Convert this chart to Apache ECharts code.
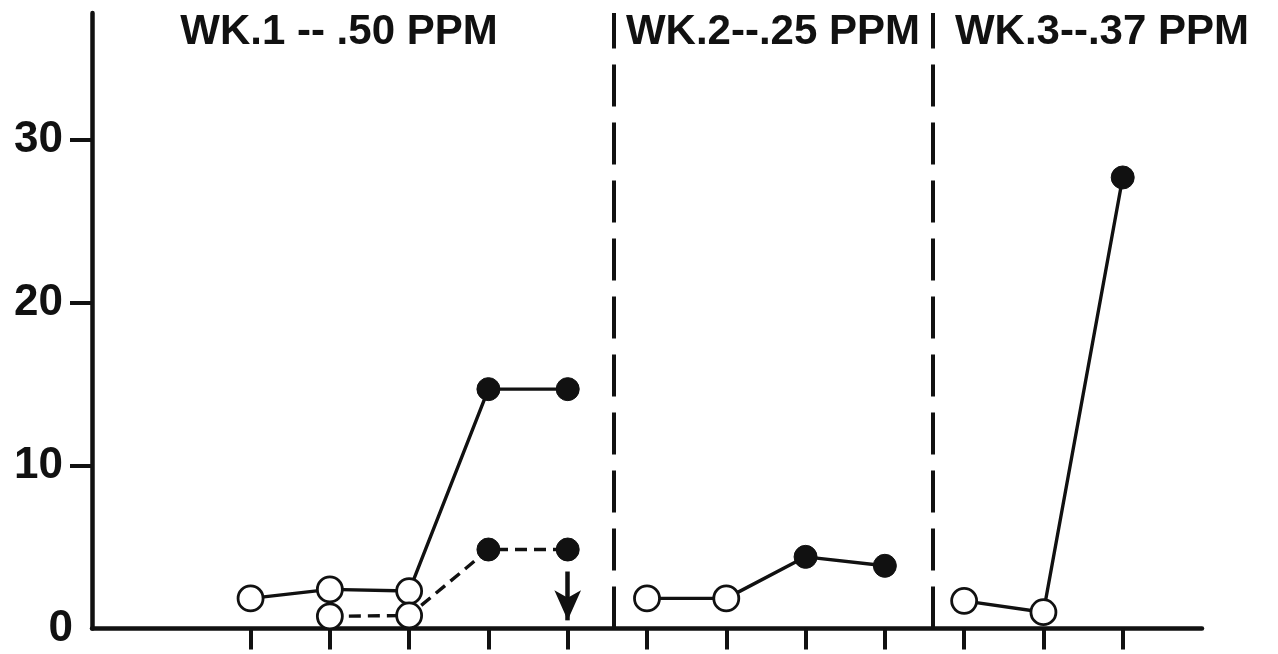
<!DOCTYPE html>
<html>
<head>
<meta charset="utf-8">
<script src="https://cdn.jsdelivr.net/npm/echarts@6/dist/echarts.min.js"></script>
<style>
  html, body { margin: 0; padding: 0; background: #fff; }
  #chart { width: 1278px; height: 654px; }
</style>
</head>
<body>
<div id="chart"></div>
<script>
// Daily readings per exposure week; "filled" marks the days drawn as solid dots
const wk1Days = [1, 2, 3, 4, 5];
const wk1Solid = [1.85, 2.4, 2.3, 14.7, 14.7];
const wk1SolidFilled = [false, false, false, true, true];

const wk1DashDays = [2, 3, 4, 5];
const wk1Dashed = [0.75, 0.8, 4.85, 4.85];
const wk1DashedFilled = [false, false, true, true];

const wk2Days = [6, 7, 8, 9];
const wk2Values = [1.85, 1.85, 4.4, 3.85];
const wk2Filled = [false, false, true, true];

const wk3Days = [10, 11, 12];
const wk3Values = [1.7, 1.0, 27.7];
const wk3Filled = [false, false, true];

// Week separators (between day columns) and the arrow on day 5
const weekBreaks = [5.58, 9.61];
const arrowDay = 5;
const arrowFrom = 3.5;
const arrowTo = 0.5;

const xTicks = [1, 2, 3, 4, 5, 6, 7, 8, 9, 10, 11, 12];
const yTicks = [0, 10, 20, 30];
const weekTitles = ['WK.1 -- .50 PPM', 'WK.2--.25 PPM', 'WK.3--.37 PPM'];
const weekTitleCenters = [339, 773, 1102];

const INK = '#111';
const FONT = '"Liberation Sans", Arial, sans-serif';

function points(days, vals, filled) {
  return days.map((d, i) => ({
    value: [d, vals[i]],
    symbolSize: filled[i] ? 23 : 25,
    itemStyle: filled[i]
      ? { color: INK, borderColor: INK, borderWidth: 1 }
      : { color: '#fff', borderColor: INK, borderWidth: 2.8 }
  }));
}

function lineSeries(days, vals, filled, dashed, extra) {
  return Object.assign({
    type: 'line',
    data: points(days, vals, filled),
    symbol: 'circle',
    showAllSymbol: true,
    lineStyle: { color: INK, width: 3.4, type: dashed ? [12, 7] : 'solid' },
    emphasis: { disabled: true },
    animation: false,
    z: 3
  }, extra || {});
}

const chart = echarts.init(document.getElementById('chart'));

chart.setOption({
  backgroundColor: '#fff',
  animation: false,
  grid: { left: 92, right: 76, top: 13, bottom: 25.5, containLabel: false },
  xAxis: {
    type: 'value',
    min: -1,
    max: 13,
    axisLine: { show: true, onZero: false, lineStyle: { color: INK, width: 4.5 } },
    axisTick: { show: true, customValues: xTicks, length: 21, lineStyle: { color: INK, width: 4 } },
    axisLabel: { show: false },
    splitLine: { show: false }
  },
  yAxis: {
    type: 'value',
    min: 0,
    max: 37.8,
    axisLine: { show: true, onZero: false, lineStyle: { color: INK, width: 4.5 } },
    axisTick: { show: true, customValues: yTicks.filter(v => v > 0), length: 22, lineStyle: { color: INK, width: 4 } },
    axisLabel: {
      customValues: yTicks,
      margin: 19,
      formatter: v => (v === 0 ? '{n|0}' : '{n|' + v + '}{s| }'),
      rich: {
        n: { fontFamily: FONT, fontWeight: 'bold', fontSize: 44, color: INK },
        s: { width: 10, fontSize: 10 }
      }
    },
    splitLine: { show: false }
  },
  graphic: weekTitles.map((t, i) => ({
    type: 'text',
    x: weekTitleCenters[i],
    y: 32,
    silent: true,
    style: {
      text: t,
      align: 'center',
      verticalAlign: 'middle',
      fontFamily: FONT,
      fontWeight: 'bold',
      fontSize: 42,
      fill: INK
    }
  })),
  series: [
    lineSeries(wk1Days, wk1Solid, wk1SolidFilled, false),
    lineSeries(wk1DashDays, wk1Dashed, wk1DashedFilled, true, {
      markLine: {
        silent: true,
        symbol: ['none', 'arrow'],
        symbolSize: [20, 30],
        label: { show: false },
        lineStyle: { color: INK, width: 4.5, type: 'solid' },
        data: [[{ coord: [arrowDay, arrowFrom] }, { coord: [arrowDay, arrowTo] }]],
        animation: false
      }
    }),
    lineSeries(wk2Days, wk2Values, wk2Filled, false, {
      markLine: {
        silent: true,
        symbol: ['none', 'none'],
        label: { show: false },
        lineStyle: { color: INK, width: 4, type: [42, 16] },
        data: weekBreaks.map(x => ({ xAxis: x })),
        animation: false
      }
    }),
    lineSeries(wk3Days, wk3Values, wk3Filled, false)
  ]
});
</script>
</body>
</html>
